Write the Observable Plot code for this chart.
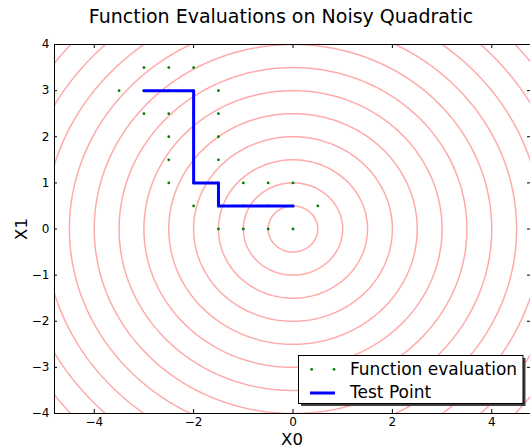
<!DOCTYPE html>
<html><head><meta charset="utf-8">
<script src="https://cdn.jsdelivr.net/npm/d3@7"></script>
<script src="https://cdn.jsdelivr.net/npm/@observablehq/plot@0.6"></script>
<style>body{margin:0;background:#fff}</style>
</head><body><div id="chart"></div>
<script>
// Function evaluation points (X0, X1)
const evalX = [-3,-2.5,-2, -3.5,-3,-2.5,-2,-1.5, -3,-2.5,-2,-1.5, -2.5,-2,-1.5, -2.5,-2,-1.5, -2.5,-2,-1.5,-1,-0.5,0, -2,-1.5,-1,-0.5,0,0.5, -1.5,-1,-0.5,0];
const evalY = [3.5,3.5,3.5, 3,3,3,3,3, 2.5,2.5,2.5,2.5, 2,2,2, 1.5,1.5,1.5, 1,1,1,1,1,1, 0.5,0.5,0.5,0.5,0.5,0.5, 0,0,0,0];
// Test point path
const testX = [-3,-2,-2,-1.5,-1.5,0];
const testY = [3,3,1,1,0.5,0.5];
// Contour radii of the quadratic bowl
const contourRadii = [0.5,1,1.5,2,2.5,3,3.5,4,4.5,5,5.5,6];
const xTicks = [-4,-2,0,2,4];
const yTicks = [-4,-3,-2,-1,0,1,2,3,4];
const labels = {title: "Function Evaluations on Noisy Quadratic", x: "X0", y: "X1", evals: "Function evaluation", test: "Test Point"};

const evals = evalX.map((x, i) => ({x, y: evalY[i]}));
const path = testX.map((x, i) => ({x, y: testY[i]}));

const W = 530, H = 448, pTop = 44, pBottom = 413, pLeft = 54, pRight = 531;
const ph = pBottom - pTop, pw = pRight - pLeft;
const fmt = d => d < 0 ? "\u2212" + Math.abs(d) : String(d);
const font = "DejaVu Sans, sans-serif";

const plot = Plot.plot({
  width: W, height: H,
  marginTop: pTop, marginBottom: H - pBottom, marginLeft: pLeft, marginRight: 0,
  style: {fontFamily: font, background: "white", overflow: "visible"},
  x: {domain: [-4.8, 4.8], range: [pLeft, pRight]},
  y: {domain: [-4, 4], range: [pBottom, pTop]},
  marks: [
    Plot.contour({
      value: (x, y) => x * x + y * y,
      x1: -6, x2: 6, y1: -5.5, y2: 5.5,
      thresholds: contourRadii.map(r => r * r),
      fill: "none", stroke: "#ffaaaa", strokeWidth: 1.5, clip: true
    }),
    Plot.dot(evals, {x: "x", y: "y", r: 1.4, fill: "#008000", stroke: "none"}),
    Plot.line(path, {x: "x", y: "y", stroke: "#0000ff", strokeWidth: 3}),
    Plot.tickX(xTicks, {x: d => d, insetTop: ph - 4, stroke: "black"}),
    Plot.tickX(xTicks, {x: d => d, insetBottom: ph - 4, stroke: "black"}),
    Plot.tickY(yTicks, {y: d => d, insetLeft: pw - 4, stroke: "black"}),
    Plot.tickY(yTicks, {y: d => d, insetRight: pw - 4, stroke: "black"}),
    Plot.axisX({ticks: xTicks, tickSize: 0, tickPadding: 4, tickFormat: fmt, fontSize: 12, label: null, color: "black"}),
    Plot.axisY({ticks: yTicks, tickSize: 0, tickPadding: 5, tickFormat: fmt, fontSize: 12, label: null, color: "black"}),
    Plot.frame({stroke: "black", strokeWidth: 1})
  ]
});
document.getElementById("chart").appendChild(plot);

const svg = d3.select(plot);
svg.append("text").attr("x", 281).attr("y", 23).attr("text-anchor", "middle")
  .attr("font-family", font).attr("font-size", 19).attr("fill", "black").text(labels.title);
svg.append("text").attr("x", 292).attr("y", 445).attr("text-anchor", "middle")
  .attr("font-family", font).attr("font-size", 16.5).attr("fill", "black").text(labels.x);
svg.append("text").attr("transform", "translate(27,229) rotate(-90)").attr("text-anchor", "middle")
  .attr("font-family", font).attr("font-size", 16.5).attr("fill", "black").text(labels.y);

// Legend
const lg = svg.append("g").attr("text-anchor", "start");
lg.append("rect").attr("x", 301).attr("y", 358).attr("width", 224.5).attr("height", 48).attr("fill", "#404040");
lg.append("rect").attr("x", 298.5).attr("y", 355.5).attr("width", 224.5).attr("height", 48).attr("fill", "white").attr("stroke", "black");
[311.7, 334].forEach(cx => lg.append("circle").attr("cx", cx).attr("cy", 369.3).attr("r", 1.4).attr("fill", "#008000"));
lg.append("line").attr("x1", 310).attr("x2", 335).attr("y1", 393).attr("y2", 393).attr("stroke", "#0000ff").attr("stroke-width", 3);
lg.append("text").attr("x", 350).attr("y", 375).attr("font-family", font).attr("font-size", 17).attr("fill", "black").text(labels.evals);
lg.append("text").attr("x", 350).attr("y", 398.3).attr("font-family", font).attr("font-size", 17).attr("fill", "black").text(labels.test);
</script>
</body></html>
